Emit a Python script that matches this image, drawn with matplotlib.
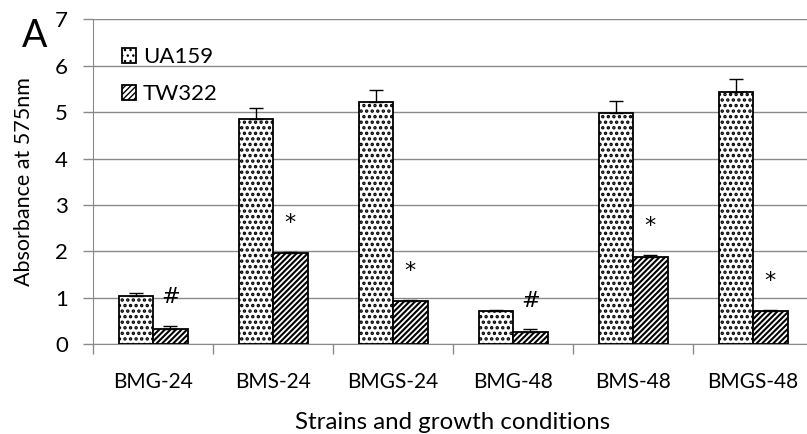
import numpy as np
import matplotlib
matplotlib.use("Agg")
import matplotlib.pyplot as plt

# valeurs
categories = ['BMG-24', 'BMS-24', 'BMGS-24', 'BMG-48', 'BMS-48', 'BMGS-48']
ua159 = [1.05, 4.85, 5.21, 0.72, 4.98, 5.44]
ua159_err = [0.05, 0.25, 0.27, 0.02, 0.25, 0.27]
tw322 = [0.34, 1.97, 0.94, 0.27, 1.89, 0.72]
tw322_err = [0.05, 0.02, 0.02, 0.05, 0.04, 0.02]
signif = ['#', '*', '*', '#', '*', '*']

plt.rcParams['font.family'] = ['Lato', 'DejaVu Sans']
grey = '#8a8a8a'

fig = plt.figure(figsize=(8.07, 4.34), dpi=100)
ax = fig.add_axes([93 / 807, 89.7 / 434, 720 / 807, 325 / 434])

x = np.arange(len(categories))
w = 0.2875
# hatch.linewidth est lu à la création des barres
with plt.rc_context({'hatch.linewidth': 1.65}):
    ax.bar(x - w / 2, ua159, w, color='white', edgecolor='black', linewidth=1.3,
           hatch='...', label='UA159', zorder=3)
with plt.rc_context({'hatch.linewidth': 1.5}):
    ax.bar(x + w / 2, tw322, w, color='white', edgecolor='black', linewidth=1.3,
           hatch='//////', label='TW322', zorder=3)
ax.errorbar(x - w / 2, ua159, yerr=[np.zeros(len(x)), ua159_err], fmt='none',
            ecolor='black', elinewidth=1, capsize=5, capthick=1, zorder=4)
ax.errorbar(x + w / 2, tw322, yerr=[np.zeros(len(x)), tw322_err], fmt='none',
            ecolor='black', elinewidth=1, capsize=5, capthick=1, zorder=4)

for i, s in enumerate(signif):
    ax.text(x[i] + w / 2, tw322[i] + tw322_err[i] + 0.62, s, ha='center',
            va='center', fontsize=16, family='DejaVu Sans')

ax.set_ylim(0, 7)
ax.set_xlim(-0.5, len(categories) - 0.5)
ax.set_yticks(range(8))
ax.yaxis.grid(True, color=grey, linewidth=1)
ax.set_axisbelow(True)

ax.set_xticks(np.arange(-0.5, len(categories)), labels=[''] * (len(categories) + 1))
ax.set_xticks(x, labels=categories, minor=True)
ax.tick_params(axis='x', which='major', length=7, color=grey, width=1)
ax.tick_params(axis='x', which='minor', length=0, pad=20, labelsize=15)
ax.tick_params(axis='y', length=7, color=grey, width=1, labelsize=16, pad=11)

for side in ['top', 'right']:
    ax.spines[side].set_visible(False)
for side in ['left', 'bottom']:
    ax.spines[side].set_color(grey)

ax.set_ylabel('Absorbance at 575nm', fontsize=15.5, labelpad=15)
ax.set_xlabel('Strains and growth conditions', fontsize=17.3, labelpad=14)

ax.legend(loc='upper left', bbox_to_anchor=(0.012, 0.975), frameon=False,
          fontsize=16, handlelength=0.65, handleheight=0.65, handletextpad=0.3,
          labelspacing=0.75)

fig.text(22 / 807, 1 - 36 / 434, 'A', fontsize=27, ha='left', va='center')

plt.savefig('out.png', dpi=100)
plt.close()
